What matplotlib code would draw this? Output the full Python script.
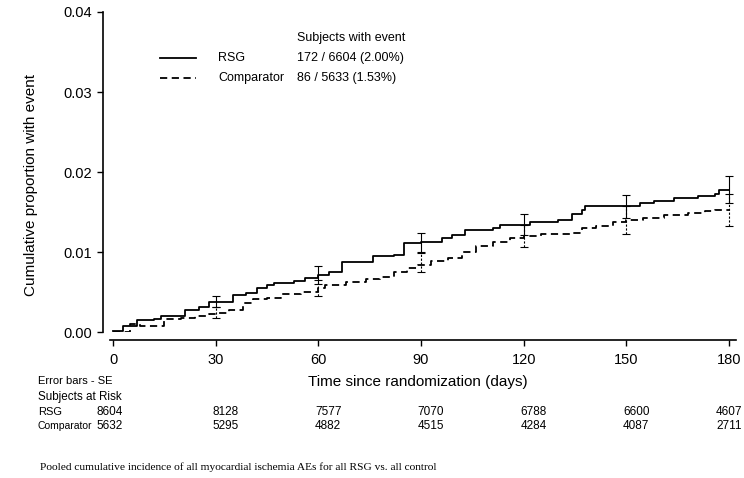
import numpy as np
import matplotlib.pyplot as plt

plt.rcParams['font.family'] = ['Liberation Sans', 'DejaVu Sans']

# Kaplan-Meier style step curves (days, cumulative proportion)
rsg_days = [0, 3, 7, 12, 14, 19, 21, 25, 28, 31, 35, 39, 42, 45, 47, 53, 56, 60, 63, 67,
            73, 76, 82, 85, 90, 94, 96, 99, 103, 111, 113, 120, 122, 130, 134, 137, 138,
            150, 154, 158, 164, 171, 176, 177, 180]
rsg_vals = [0.0001, 0.0007, 0.0015, 0.0016, 0.0020, 0.0020, 0.0028, 0.0031, 0.0038, 0.0038,
            0.0046, 0.0049, 0.0055, 0.0059, 0.0061, 0.0064, 0.0067, 0.0071, 0.0075, 0.0087,
            0.0088, 0.0095, 0.0096, 0.0111, 0.0112, 0.0112, 0.0117, 0.0121, 0.0128, 0.0130,
            0.0134, 0.0134, 0.0137, 0.0140, 0.0148, 0.0153, 0.0157, 0.0157, 0.0161, 0.0164,
            0.0167, 0.0170, 0.0173, 0.0177, 0.0178]

cmp_days = [0, 5, 8, 12, 15, 20, 24, 28, 31, 34, 38, 41, 45, 49, 55, 60, 62, 68, 74, 78,
            82, 86, 89, 93, 98, 102, 106, 111, 116, 120, 125, 134, 137, 141, 146, 150, 155,
            161, 168, 173, 176, 180]
cmp_vals = [0.0000, 0.0010, 0.0008, 0.0008, 0.0016, 0.0017, 0.0020, 0.0023, 0.0024, 0.0028,
            0.0036, 0.0041, 0.0042, 0.0047, 0.0050, 0.0055, 0.0059, 0.0063, 0.0066, 0.0069,
            0.0075, 0.0080, 0.0084, 0.0089, 0.0092, 0.0100, 0.0107, 0.0113, 0.0118, 0.0120,
            0.0123, 0.0124, 0.0130, 0.0133, 0.0137, 0.0140, 0.0142, 0.0146, 0.0149, 0.0151,
            0.0153, 0.0153]

# error bars (SE) at the risk-table time points
eb_days = [30, 60, 90, 120, 150, 180]
rsg_eb_vals = [0.0038, 0.0071, 0.0112, 0.0134, 0.0157, 0.0178]
rsg_se = [0.0007, 0.0011, 0.0012, 0.0013, 0.0014, 0.0017]
cmp_eb_vals = [0.0024, 0.0055, 0.0087, 0.0120, 0.0140, 0.0153]
cmp_se = [0.0007, 0.0010, 0.0012, 0.0014, 0.0017, 0.0020]

# subjects at risk table
risk_days = [0, 30, 60, 90, 120, 150, 180]
rsg_risk = ['8604', '8128', '7577', '7070', '6788', '6600', '4607']
cmp_risk = ['5632', '5295', '4882', '4515', '4284', '4087', '2711']

fig = plt.figure(figsize=(7.44, 4.78), dpi=100)
ax = fig.add_axes([0.1473, 0.3054, 0.8417, 0.6695])

ax.plot(rsg_days, rsg_vals, color='black', lw=1.3, drawstyle='steps-post', label='RSG')
ax.plot(cmp_days, cmp_vals, color='black', lw=1.3, ls=(0, (4, 2.5)),
        drawstyle='steps-post', label='Comparator')

ax.errorbar(eb_days, rsg_eb_vals, yerr=rsg_se, fmt='none', ecolor='black',
            elinewidth=0.8, capsize=3, capthick=0.8)
eb = ax.errorbar(eb_days, cmp_eb_vals, yerr=cmp_se, fmt='none', ecolor='black',
                 elinewidth=0.8, capsize=3, capthick=0.8)
for c in eb[2]:
    c.set_linestyle((0, (2, 1.5)))

ax.set_xlim(-1, 182)
ax.set_ylim(0, 0.04)
ax.set_xticks(risk_days)
ax.set_yticks([0.0, 0.01, 0.02, 0.03, 0.04])
ax.set_yticklabels(['0.00', '0.01', '0.02', '0.03', '0.04'])
ax.tick_params(labelsize=10.5, length=4, width=1, direction='out')
ax.tick_params(axis='x', pad=5)

for s in ['top', 'right']:
    ax.spines[s].set_visible(False)
ax.spines['left'].set_position(('outward', 5))
ax.spines['bottom'].set_position(('outward', 6))
ax.spines['left'].set_linewidth(1.2)
ax.spines['bottom'].set_linewidth(1.2)

ax.set_ylabel('Cumulative proportion with event', fontsize=11)
ax.yaxis.label.set_va('center')
ax.yaxis.set_label_coords(-0.125, 0.46)
ax.set_xlabel('Time since randomization (days)', fontsize=11)
ax.xaxis.label.set_va('center')
ax.xaxis.set_label_coords(0.4925, -0.156)

# legend block
lg = 9
ax.plot([13.7, 24.3], [0.03425, 0.03425], color='black', lw=1.3)
ax.plot([13.7, 24.3], [0.03175, 0.03175], color='black', lw=1.3, ls=(0, (4, 2.5)))
ax.text(30.7, 0.03425, 'RSG', fontsize=lg, va='center')
ax.text(30.7, 0.03175, 'Comparator', fontsize=lg, va='center')
ax.text(53.8, 0.03675, 'Subjects with event', fontsize=lg, va='center')
ax.text(53.8, 0.03425, '172 / 6604 (2.00%)', fontsize=lg, va='center')
ax.text(53.8, 0.03175, '86 / 5633 (1.53%)', fontsize=lg, va='center')

# risk table below the axes
tr = ax.get_xaxis_transform()
fig.text(38 / 744, 1 - 381 / 478, 'Error bars - SE', fontsize=8, va='center')
fig.text(38 / 744, 1 - 397 / 478, 'Subjects at Risk', fontsize=8.4, va='center')
fig.text(38 / 744, 1 - 412 / 478, 'RSG', fontsize=8, va='center')
fig.text(38 / 744, 1 - 426 / 478, 'Comparator', fontsize=7.5, va='center')
for i, d in enumerate(risk_days):
    xoff = -1
    if i == 0:
        xoff = -4.7
    if i == len(risk_days) - 1:
        xoff = -3.8
    ax.text(d + xoff, -80 / 320, rsg_risk[i], transform=tr, fontsize=8.5, va='center')
    ax.text(d + xoff, -94 / 320, cmp_risk[i], transform=tr, fontsize=8.5, va='center')

fig.text(40 / 744, 1 - 467 / 478,
         'Pooled cumulative incidence of all myocardial ischemia AEs for all RSG vs. all control',
         fontsize=8.2, family='Liberation Serif', va='center')

fig.savefig('out.png', dpi=100)
